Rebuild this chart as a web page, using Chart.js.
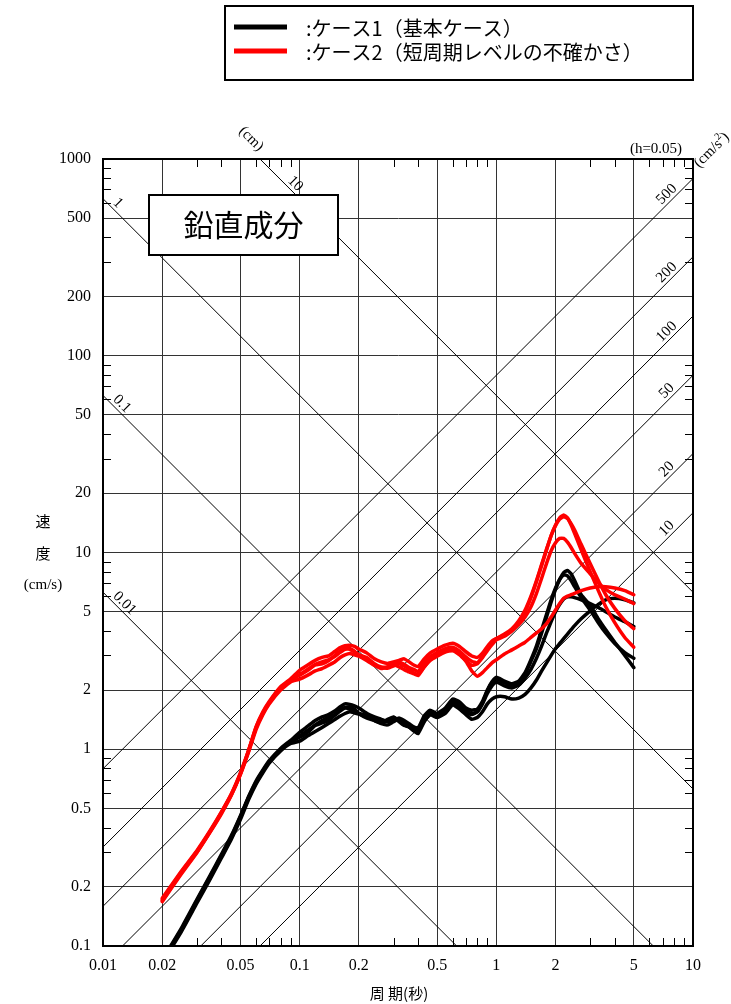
<!DOCTYPE html>
<html lang="ja">
<head>
<meta charset="utf-8">
<title>鉛直成分 速度応答スペクトル</title>
<script src="https://cdn.jsdelivr.net/npm/chart.js"></script>
<style>
  html, body { margin: 0; padding: 0; background: #fff; }
  #wrap { position: relative; width: 731px; height: 1004px; }
</style>
</head>
<body>
<div id="wrap"><canvas id="spec" width="731" height="1004"></canvas></div>
<script>
// 周期 (s)
const periods = [0.02,0.025,0.03,0.035,0.04,0.045,0.05,0.055,0.06,0.065,0.07,0.08,0.09,
  0.10,0.11,0.12,0.13,0.14,0.15,0.16,0.17,0.18,0.19,0.20,
  0.22,0.24,0.26,0.28,0.30,0.32,0.34,0.36,0.38,0.40,0.43,0.46,
  0.50,0.55,0.60,0.65,0.70,0.75,0.80,0.85,0.90,0.95,
  1.0,1.1,1.2,1.3,1.4,1.5,1.6,1.7,1.8,1.9,2.0,2.1,2.2,2.3,2.4,2.5,
  2.7,3.0,3.3,3.6,4.0,4.5,5.0];

// ケース1 (基本ケース) 速度 cm/s
const case1A = [0.083,0.120,0.168,0.222,0.285,0.355,0.450,0.565,0.675,0.770,0.860,0.990,1.09,
  1.15,1.22,1.32,1.36,1.40,1.48,1.56,1.62,1.60,1.55,1.52,
  1.48,1.43,1.38,1.40,1.45,1.40,1.33,1.30,1.27,1.24,1.42,1.55,
  1.48,1.58,1.76,1.70,1.58,1.52,1.55,1.72,1.98,2.18,
  2.28,2.18,2.10,2.18,2.40,2.80,3.25,3.90,4.70,5.60,6.50,7.30,7.90,8.10,7.80,7.20,
  6.10,5.40,4.60,4.05,3.50,3.00,2.60];
const case1B = [0.085,0.123,0.172,0.228,0.292,0.365,0.460,0.575,0.690,0.785,0.875,1.01,1.11,
  1.22,1.31,1.40,1.46,1.50,1.56,1.64,1.70,1.69,1.66,1.62,
  1.52,1.46,1.42,1.38,1.40,1.44,1.40,1.35,1.30,1.28,1.48,1.58,
  1.52,1.62,1.80,1.74,1.62,1.58,1.60,1.75,2.00,2.20,
  2.32,2.22,2.15,2.22,2.45,2.85,3.35,4.05,4.85,5.75,6.60,7.30,7.70,7.60,7.20,6.70,
  5.90,5.10,4.40,3.90,3.45,3.10,2.90];
const case1C = [0.082,0.118,0.165,0.218,0.280,0.350,0.440,0.555,0.665,0.760,0.850,0.980,1.07,
  1.10,1.17,1.23,1.29,1.35,1.41,1.47,1.52,1.55,1.53,1.51,
  1.46,1.40,1.36,1.42,1.46,1.38,1.32,1.30,1.25,1.22,1.40,1.52,
  1.46,1.55,1.72,1.66,1.55,1.50,1.55,1.70,1.92,2.10,
  2.20,2.10,2.05,2.12,2.30,2.55,2.90,3.35,3.90,4.45,5.00,5.45,5.80,5.95,5.95,5.90,
  5.75,5.50,5.25,5.00,4.70,4.45,4.20];
const case1D = [0.084,0.121,0.170,0.225,0.288,0.360,0.455,0.570,0.680,0.775,0.865,1.00,1.10,
  1.17,1.25,1.33,1.40,1.45,1.50,1.58,1.63,1.64,1.60,1.52,
  1.44,1.40,1.35,1.33,1.38,1.42,1.36,1.30,1.24,1.20,1.38,1.50,
  1.45,1.52,1.68,1.60,1.50,1.42,1.45,1.55,1.70,1.80,
  1.85,1.85,1.80,1.82,1.90,2.05,2.25,2.50,2.75,3.00,3.25,3.45,3.65,3.85,4.05,4.25,
  4.60,5.05,5.45,5.75,5.85,5.75,5.55];

// ケース2 (短周期レベルの不確かさ) 速度 cm/s
const case2A = [0.170,0.235,0.300,0.380,0.475,0.590,0.750,0.980,1.28,1.52,1.72,2.05,2.25,
  2.38,2.52,2.68,2.72,2.82,2.98,3.15,3.25,3.22,3.12,3.02,
  2.92,2.72,2.62,2.62,2.72,2.78,2.70,2.60,2.55,2.48,2.75,2.95,
  3.10,3.25,3.30,3.15,2.95,2.80,2.75,2.95,3.25,3.50,
  3.65,3.80,4.00,4.40,5.00,5.90,7.10,8.60,10.3,12.2,13.8,15.0,15.5,15.0,13.8,12.5,
  10.3,8.0,6.4,5.3,4.4,3.7,3.3];
const case2B = [0.175,0.240,0.305,0.385,0.480,0.595,0.760,0.990,1.30,1.55,1.75,2.08,2.28,
  2.52,2.68,2.83,2.93,2.98,3.13,3.28,3.36,3.38,3.33,3.23,
  3.08,2.88,2.78,2.73,2.78,2.83,2.88,2.78,2.68,2.63,2.88,3.08,
  3.23,3.38,3.46,3.33,3.13,2.98,2.93,3.08,3.33,3.55,
  3.65,3.85,4.10,4.50,5.10,6.00,7.20,8.70,10.4,12.2,13.7,14.8,15.2,14.9,14.0,13.0,
  11.0,8.8,7.2,6.1,5.2,4.5,4.1];
const case2C = [0.168,0.232,0.298,0.378,0.470,0.585,0.745,0.970,1.26,1.50,1.70,2.00,2.20,
  2.27,2.38,2.50,2.57,2.67,2.77,2.92,3.02,3.07,3.02,2.97,
  2.82,2.67,2.57,2.62,2.70,2.62,2.54,2.47,2.42,2.37,2.62,2.82,
  2.97,3.12,3.17,3.02,2.82,2.67,2.72,2.92,3.17,3.40,
  3.60,3.75,4.00,4.30,4.70,5.30,6.20,7.40,8.80,10.2,11.2,11.8,11.8,11.3,10.6,9.9,
  8.8,7.8,7.0,6.5,6.1,5.8,5.5];
const case2D = [0.172,0.238,0.302,0.382,0.478,0.590,0.755,0.985,1.29,1.53,1.73,2.06,2.24,
  2.40,2.55,2.70,2.78,2.85,2.95,3.10,3.22,3.25,3.15,3.00,
  2.85,2.68,2.60,2.58,2.65,2.72,2.65,2.55,2.45,2.40,2.62,2.85,
  3.00,3.15,3.25,3.05,2.80,2.50,2.35,2.45,2.60,2.75,
  2.85,3.05,3.20,3.35,3.50,3.70,3.90,4.10,4.35,4.70,5.10,5.50,5.85,6.00,6.10,6.20,
  6.40,6.60,6.70,6.70,6.60,6.40,6.10];

const xTicks = [0.01, 0.02, 0.05, 0.1, 0.2, 0.5, 1, 2, 5, 10];
const yTicks = [0.1, 0.2, 0.5, 1, 2, 5, 10, 20, 50, 100, 200, 500, 1000];
const dispLines = [0.01, 0.1, 1, 10];            // 変位 (cm)
const accLines = [10, 20, 50, 100, 200, 500];     // 加速度 (cm/s2)
const legendLabels = [':ケース1（基本ケース）', ':ケース2（短周期レベルの不確かさ）'];
const titleText = '鉛直成分';

const TWO_PI = 2 * Math.PI;
const SERIF = "'Liberation Serif', 'Noto Sans CJK JP', serif";
const SANS = "'Noto Sans CJK JP', 'Noto Sans', sans-serif";

function curve(values, color) {
  return {
    data: periods.map((t, i) => ({ x: t, y: values[i] })),
    borderColor: color, borderWidth: 3.5, pointRadius: 0,
    borderCapStyle: 'round', borderJoinStyle: 'round', tension: 0.15, order: 1
  };
}

function diagonal(vAt) {
  const t0 = xTicks[0], t1 = xTicks[xTicks.length - 1];
  return {
    data: [{ x: t0, y: vAt(t0) }, { x: t1, y: vAt(t1) }],
    borderColor: '#000', borderWidth: 1, pointRadius: 0, order: 5
  };
}

const datasets = [
  curve(case2A, '#ff0000'), curve(case2B, '#ff0000'), curve(case2C, '#ff0000'), curve(case2D, '#ff0000'),
  curve(case1A, '#000'), curve(case1B, '#000'), curve(case1C, '#000'), curve(case1D, '#000')
];
dispLines.forEach(d => datasets.push(diagonal(t => TWO_PI * d / t)));
accLines.forEach(a => datasets.push(diagonal(t => a * t / TWO_PI)));

const decoration = {
  id: 'decoration',
  beforeDatasetsDraw(chart) {
    const { ctx, chartArea: a, scales: { x, y } } = chart;
    ctx.save();
    ctx.strokeStyle = '#000';
    ctx.lineWidth = 1;
    ctx.beginPath();
    const mult = [3, 4, 6, 7, 8, 9];
    for (let e = -2; e <= 0; e++) {
      mult.forEach(m => {
        const px = Math.round(x.getPixelForValue(m * Math.pow(10, e))) + 0.5;
        ctx.moveTo(px, a.bottom); ctx.lineTo(px, a.bottom - 8);
        ctx.moveTo(px, a.top); ctx.lineTo(px, a.top + 8);
      });
    }
    for (let e = -1; e <= 2; e++) {
      mult.forEach(m => {
        const py = Math.round(y.getPixelForValue(m * Math.pow(10, e))) + 0.5;
        ctx.moveTo(a.left, py); ctx.lineTo(a.left + 8, py);
        ctx.moveTo(a.right, py); ctx.lineTo(a.right - 8, py);
      });
    }
    ctx.stroke();
    ctx.restore();
  },
  afterDraw(chart) {
    const { ctx, chartArea: a, scales: { x, y } } = chart;
    ctx.save();
    // frame
    ctx.strokeStyle = '#000';
    ctx.lineWidth = 2;
    ctx.strokeRect(a.left, a.top, a.right - a.left, a.bottom - a.top);

    // displacement labels
    ctx.fillStyle = '#000';
    ctx.font = '15px ' + SERIF;
    ctx.textBaseline = 'alphabetic';
    dispLines.forEach(d => {
      const vLeft = TWO_PI * d / xTicks[0];
      let ex, ey, s0;
      if (vLeft <= yTicks[yTicks.length - 1]) {
        ex = a.left; ey = y.getPixelForValue(vLeft); s0 = 10;
      } else {
        ex = x.getPixelForValue(TWO_PI * d / yTicks[yTicks.length - 1]); ey = a.top; s0 = 35;
      }
      ctx.save();
      ctx.translate(ex + s0 / Math.SQRT2, ey + s0 / Math.SQRT2);
      ctx.rotate(Math.PI / 4);
      ctx.textAlign = 'left';
      ctx.fillText(String(d), 0, -3.5);
      ctx.restore();
    });
    // (cm) unit
    ctx.save();
    ctx.translate(a.left + 148, a.top - 20);
    ctx.rotate(Math.PI / 4);
    ctx.textAlign = 'center';
    ctx.textBaseline = 'middle';
    ctx.fillText('(cm)', 0, 0);
    ctx.restore();

    // acceleration labels
    accLines.forEach(acc => {
      const px = a.right - 21;
      const t = x.getValueForPixel(px);
      const py = y.getPixelForValue(acc * t / TWO_PI);
      ctx.save();
      ctx.translate(px, py);
      ctx.rotate(-Math.PI / 4);
      ctx.textAlign = 'center';
      ctx.fillText(String(acc), 0, -3.5);
      ctx.restore();
    });
    // (cm/s2) unit
    ctx.save();
    ctx.translate(a.right + 19, a.top - 9);
    ctx.rotate(-Math.PI / 4);
    ctx.textAlign = 'left';
    ctx.textBaseline = 'middle';
    const w1 = ctx.measureText('(cm/s').width;
    ctx.fillText('(cm/s', -22, 0);
    ctx.font = '10px ' + SERIF;
    ctx.fillText('2', -22 + w1, -5);
    const w2 = ctx.measureText('2').width;
    ctx.font = '15px ' + SERIF;
    ctx.fillText(')', -22 + w1 + w2, 0);
    ctx.restore();

    // damping
    ctx.textAlign = 'center';
    ctx.textBaseline = 'middle';
    ctx.font = '15px ' + SERIF;
    ctx.fillText('(h=0.05)', a.right - 37, a.top - 10);

    // axis titles
    ctx.fillText('速', 43, 523);
    ctx.fillText('度', 43, 555);
    ctx.fillText('(cm/s)', 43, 585);
    ctx.font = '15px ' + SANS;
    ctx.fillText('周 期(秒)', (a.left + a.right) / 2 + 1, 993);

    // title box
    const bx = a.left + 46, by = a.top + 36, bw = 189, bh = 60;
    ctx.fillStyle = '#fff';
    ctx.fillRect(bx, by, bw, bh);
    ctx.lineWidth = 2;
    ctx.strokeRect(bx, by, bw, bh);
    ctx.fillStyle = '#000';
    ctx.font = '30px ' + SANS;
    ctx.fillText(titleText, bx + bw / 2, by + bh / 2);

    // legend
    ctx.lineWidth = 2;
    ctx.strokeRect(225, 6, a.right - 225, 74);
    const legendColors = ['#000', '#ff0000'];
    const rows = [27, 51];
    ctx.font = '20px ' + SANS;
    ctx.textAlign = 'left';
    legendLabels.forEach((lab, i) => {
      ctx.strokeStyle = legendColors[i];
      ctx.lineWidth = 5;
      ctx.beginPath();
      ctx.moveTo(234, rows[i]); ctx.lineTo(287, rows[i]);
      ctx.stroke();
      ctx.fillText(lab, 306, rows[i] + 1);
    });
    ctx.restore();
  }
};

const tickFont = { family: SERIF, size: 16 };

new Chart(document.getElementById('spec'), {
  type: 'line',
  data: { datasets },
  options: {
    responsive: false,
    animation: false,
    events: [],
    layout: { padding: { top: 159, right: 38, left: 0, bottom: 0 } },
    plugins: { legend: { display: false }, tooltip: { enabled: false } },
    scales: {
      x: {
        type: 'logarithmic', min: xTicks[0], max: xTicks[xTicks.length - 1],
        afterBuildTicks: s => { s.ticks = xTicks.map(v => ({ value: v })); },
        afterFit: s => { s.height = 58; },
        grid: { color: '#333', lineWidth: 1, drawTicks: false },
        border: { color: '#000', width: 2 },
        ticks: { autoSkip: false, maxRotation: 0, padding: 10, color: '#000', font: tickFont,
                 callback: v => String(v) }
      },
      y: {
        type: 'logarithmic', min: yTicks[0], max: yTicks[yTicks.length - 1],
        afterBuildTicks: s => { s.ticks = yTicks.map(v => ({ value: v })); },
        afterFit: s => { s.width = 103; },
        grid: { color: '#333', lineWidth: 1, drawTicks: false },
        border: { color: '#000', width: 2 },
        ticks: { autoSkip: false, padding: 12, color: '#000', font: tickFont,
                 callback: v => String(v) }
      }
    }
  },
  plugins: [decoration]
});
</script>
</body>
</html>
